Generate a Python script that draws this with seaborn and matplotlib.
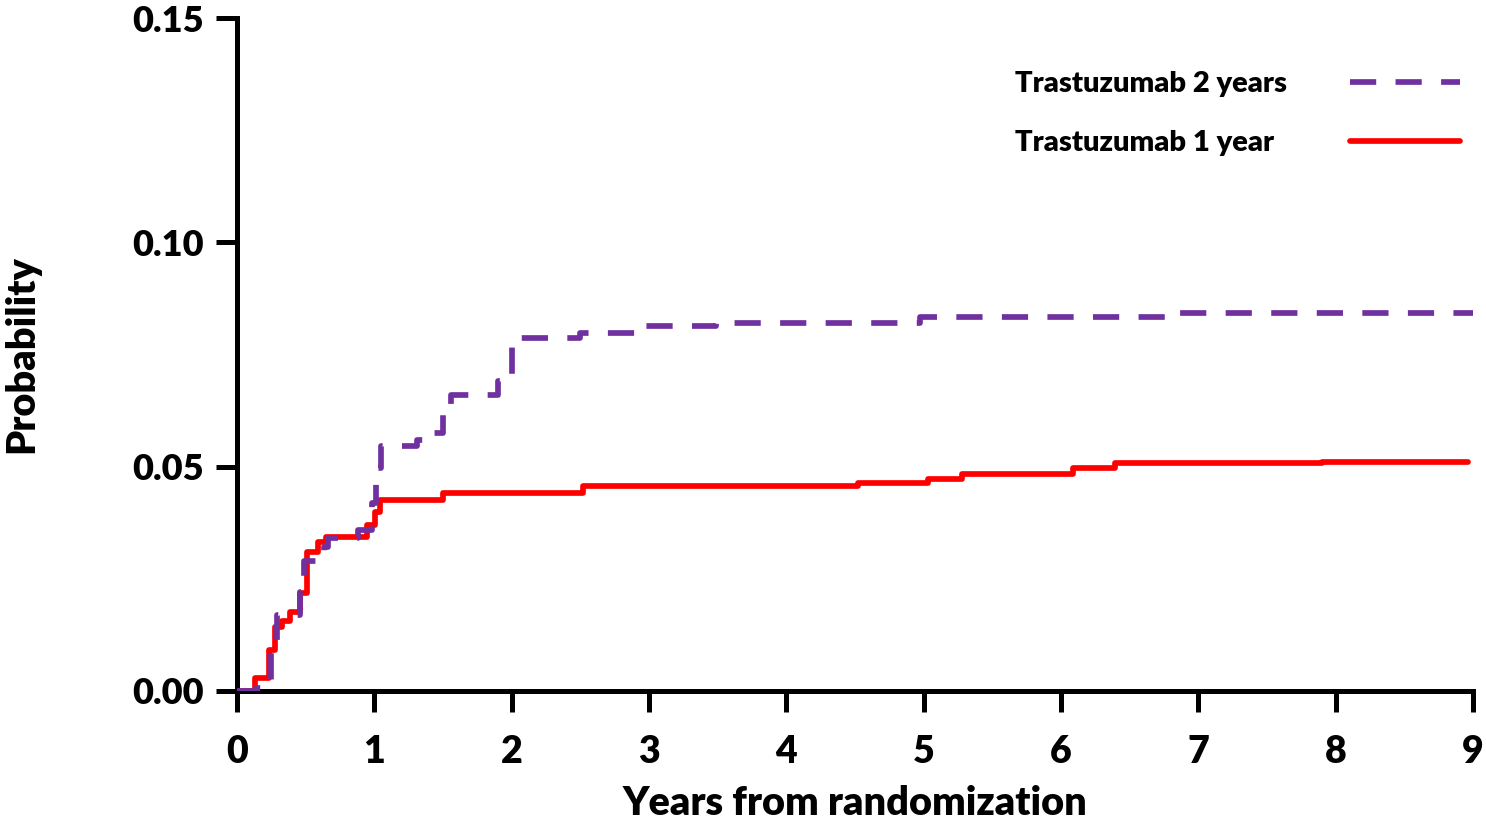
import numpy as np
import pandas as pd
import matplotlib
matplotlib.use("Agg")
import matplotlib.pyplot as plt
import seaborn as sns
from matplotlib.lines import Line2D

# Data (step curves)
years_2y = [0.0, 0.14, 0.25, 0.29, 0.46, 0.49, 0.58, 0.63, 0.66, 0.88, 0.98, 1.01, 1.03, 1.05,
            1.31, 1.37, 1.50, 1.56, 1.90, 2.00, 2.50, 2.98, 3.49, 4.97, 6.81, 9.0]
prob_2y = [0.0, 0.0007, 0.009, 0.0169, 0.022, 0.029, 0.0303, 0.0322, 0.0341, 0.0359, 0.0419,
           0.0463, 0.0496, 0.0545, 0.0560, 0.0574, 0.0623, 0.0660, 0.0691, 0.0786, 0.0797,
           0.0814, 0.0820, 0.0834, 0.0843, 0.0843]
years_1y = [0.0, 0.13, 0.23, 0.28, 0.325, 0.386, 0.46, 0.512, 0.59, 0.65, 0.944, 1.005, 1.04,
            1.50, 2.52, 4.52, 5.03, 5.28, 6.09, 6.39, 7.90, 8.96]
prob_1y = [0.0, 0.0029, 0.0091, 0.0143, 0.0155, 0.0177, 0.0218, 0.0310, 0.0333, 0.0344,
           0.0370, 0.0400, 0.0426, 0.0441, 0.0457, 0.0463, 0.0472, 0.0483, 0.0496, 0.0508,
           0.0511, 0.0511]
labels = ["Trastuzumab 2 years", "Trastuzumab 1 year"]
x_ticks = list(range(0, 10))
y_ticks = [0.00, 0.05, 0.10, 0.15]

PURPLE = "#7030A0"
RED = "#FF0000"

sns.set_theme(style="ticks")
plt.rcParams['font.family'] = ['Lato', 'DejaVu Sans']
plt.rcParams.update({"text.color": "black", "axes.labelcolor": "black",
                     "xtick.color": "black", "ytick.color": "black"})
W = "heavy"
LW = 4.1
DASH = (0, (4.6, 3.4))

fig = plt.figure(figsize=(14.86, 8.23), dpi=100)
ax = fig.add_axes([237/1486, 1-691/823, (1473-237)/1486, (691-18)/823])

df2 = pd.DataFrame({"x": years_2y, "y": prob_2y})
df1 = pd.DataFrame({"x": years_1y, "y": prob_1y})
sns.lineplot(data=df2, x="x", y="y", ax=ax, color=PURPLE, lw=LW, estimator=None,
             drawstyle="steps-post", linestyle=DASH, zorder=3)
sns.lineplot(data=df1, x="x", y="y", ax=ax, color=RED, lw=LW, estimator=None,
             drawstyle="steps-post", zorder=2)

ax.set_xlim(0, 9)
ax.set_ylim(0, 0.15)
ax.set_xticks(x_ticks)
ax.set_xticklabels([str(t) for t in x_ticks])
ax.set_yticks(y_ticks)
ax.set_yticklabels([f"{t:.2f}" for t in y_ticks])
for s in ["top", "right"]:
    ax.spines[s].set_visible(False)
for s in ["left", "bottom"]:
    ax.spines[s].set_linewidth(3.6)
    ax.spines[s].set_color("black")
    ax.spines[s].set_capstyle("projecting")
ax.tick_params(axis="both", length=15, width=3.6, color="black", direction="out")
ax.tick_params(axis="x", labelsize=27, pad=16.5)
ax.tick_params(axis="y", labelsize=26, pad=9)
for lab in ax.get_xticklabels() + ax.get_yticklabels():
    lab.set_fontweight(W)
ax.set_xlabel("Years from randomization", fontsize=28.5, fontweight=W, labelpad=12)
ax.set_ylabel("Probability", fontsize=28.5, fontweight=W, labelpad=66)

inv = Line2D([], [], color="none")
h2 = Line2D([], [], color=PURPLE, lw=LW, linestyle=DASH)
h1 = Line2D([], [], color=RED, lw=LW)
leg = ax.legend([inv, inv, h2, h1], [labels[0], labels[1], "", ""], ncol=2,
                loc="upper right", bbox_to_anchor=(0.9895, 0.921), frameon=False,
                handlelength=3.77, handletextpad=0.0, columnspacing=2.15,
                borderaxespad=0.0, borderpad=0.0,
                labelspacing=1.13, prop={"weight": W, "size": 21})

fig.savefig("out.png", dpi=100)
